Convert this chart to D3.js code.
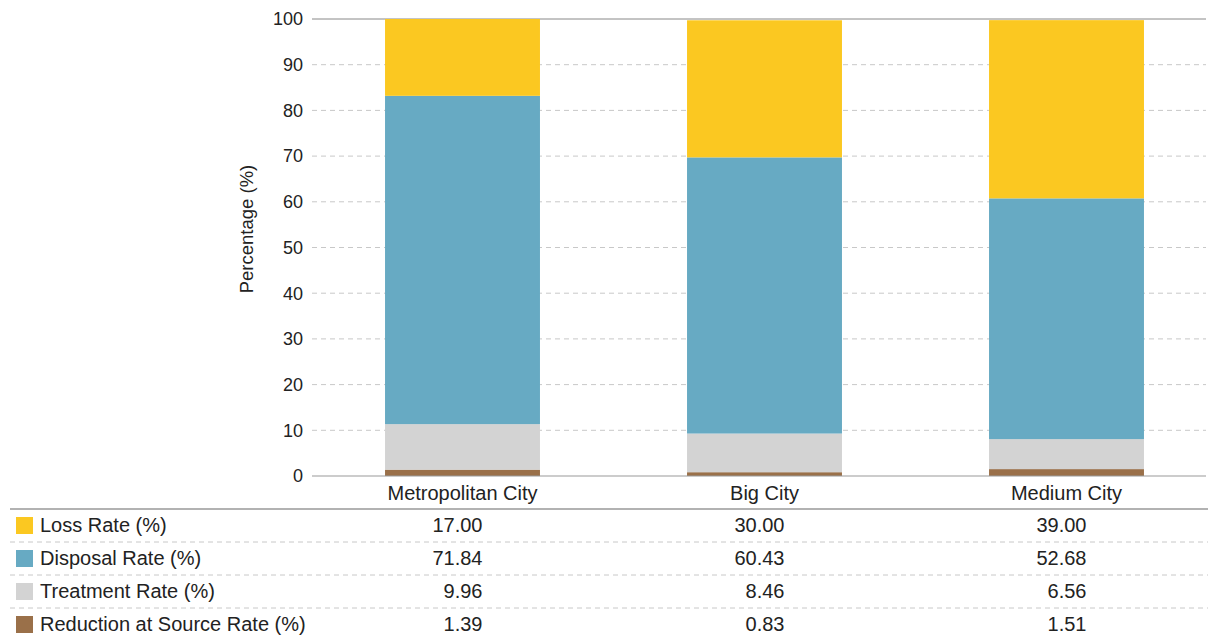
<!DOCTYPE html>
<html>
<head>
<meta charset="utf-8">
<script src="https://cdn.jsdelivr.net/npm/d3@7"></script>
<style>
  body { margin: 0; background: #fff; }
  text { font-family: "Liberation Sans", Arial, sans-serif; fill: #222; }
</style>
</head>
<body>
<div id="chart"></div>
<script>
// categories and series (bottom of stack first)
const cities = ["Metropolitan City", "Big City", "Medium City"];
const seriesNames = ["Reduction at Source Rate (%)", "Treatment Rate (%)", "Disposal Rate (%)", "Loss Rate (%)"];
const seriesColors = ["#9a7049", "#d3d3d3", "#67aac3", "#fbc821"];
const reduction = [1.39, 0.83, 1.51];
const treatment = [9.96, 8.46, 6.56];
const disposal = [71.84, 60.43, 52.68];
const loss = [17.00, 30.00, 39.00];
const yTicks = [0, 10, 20, 30, 40, 50, 60, 70, 80, 90, 100];

const W = 1208, H = 635;
const margin = { left: 312, top: 19, right: 1206, bottom: 476 };

const svg = d3.select("#chart").append("svg")
  .attr("width", W).attr("height", H);

const x = d3.scaleBand().domain(cities).range([311.5, 1217.5]).paddingInner(0.487).paddingOuter(0.2435);
const y = d3.scaleLinear().domain([0, 100]).range([margin.bottom, margin.top]);

// gridlines
svg.append("g").selectAll("line")
  .data(yTicks.filter(t => t > 0 && t < 100))
  .enter().append("line")
  .attr("x1", margin.left).attr("x2", margin.right)
  .attr("y1", d => y(d)).attr("y2", d => y(d))
  .attr("stroke", "#c8c8c8").attr("stroke-dasharray", "5,4");

svg.append("line")
  .attr("x1", margin.left).attr("x2", margin.right)
  .attr("y1", y(100)).attr("y2", y(100))
  .attr("stroke", "#888");

// stacked bars
const rows = cities.map((c, i) => ({
  city: c,
  [seriesNames[0]]: reduction[i],
  [seriesNames[1]]: treatment[i],
  [seriesNames[2]]: disposal[i],
  [seriesNames[3]]: loss[i]
}));
const stacked = d3.stack().keys(seriesNames)(rows);

svg.append("g").selectAll("g")
  .data(stacked)
  .enter().append("g")
  .attr("fill", (d, i) => seriesColors[i])
  .selectAll("rect")
  .data(d => d)
  .enter().append("rect")
  .attr("x", d => x(d.data.city))
  .attr("width", x.bandwidth())
  .attr("y", d => y(Math.min(d[1], 100)))
  .attr("height", d => y(d[0]) - y(Math.min(d[1], 100)));

// zero line
svg.append("line")
  .attr("x1", margin.left).attr("x2", margin.right)
  .attr("y1", y(0)).attr("y2", y(0))
  .attr("stroke", "#999").attr("stroke-width", 1.2);

// y axis labels
svg.append("g").selectAll("text")
  .data(yTicks)
  .enter().append("text")
  .attr("x", 303).attr("y", d => y(d))
  .attr("dy", "0.35em")
  .attr("text-anchor", "end")
  .attr("font-size", 18)
  .text(d => d);

svg.append("text")
  .attr("transform", "translate(253,229) rotate(-90)")
  .attr("text-anchor", "middle")
  .attr("font-size", 18.5)
  .text("Percentage (%)");

// category labels
svg.append("g").selectAll("text")
  .data(cities)
  .enter().append("text")
  .attr("x", d => x(d) + x.bandwidth() / 2)
  .attr("y", 500)
  .attr("text-anchor", "middle")
  .attr("font-size", 20)
  .text(d => d);

// data table
const tableTop = 509, rowH = 33;
svg.append("line")
  .attr("x1", 10).attr("x2", W)
  .attr("y1", tableTop).attr("y2", tableTop)
  .attr("stroke", "#999").attr("stroke-width", 1.5);

const tableRows = [
  { name: seriesNames[3], color: seriesColors[3], vals: loss },
  { name: seriesNames[2], color: seriesColors[2], vals: disposal },
  { name: seriesNames[1], color: seriesColors[1], vals: treatment },
  { name: seriesNames[0], color: seriesColors[0], vals: reduction }
];

const tr = svg.append("g").selectAll("g")
  .data(tableRows)
  .enter().append("g")
  .attr("transform", (d, i) => `translate(0,${tableTop + i * rowH})`);

tr.filter((d, i) => i > 0).append("line")
  .attr("x1", 10).attr("x2", W)
  .attr("y1", 0).attr("y2", 0)
  .attr("stroke", "#c8c8c8").attr("stroke-dasharray", "5,4");

tr.append("rect")
  .attr("x", 16).attr("y", 8)
  .attr("width", 17).attr("height", 17)
  .attr("fill", d => d.color);

tr.append("text")
  .attr("x", 40).attr("y", rowH / 2 - 1)
  .attr("dy", "0.35em")
  .attr("font-size", 20)
  .text(d => d.name);

tr.selectAll("text.val")
  .data(d => d.vals.map((v, i) => ({ v, city: cities[i] })))
  .enter().append("text")
  .attr("class", "val")
  .attr("x", d => x(d.city) + x.bandwidth() / 2 + 20)
  .attr("y", rowH / 2 - 1)
  .attr("dy", "0.35em")
  .attr("text-anchor", "end")
  .attr("font-size", 20)
  .text(d => d.v.toFixed(2));
</script>
</body>
</html>
